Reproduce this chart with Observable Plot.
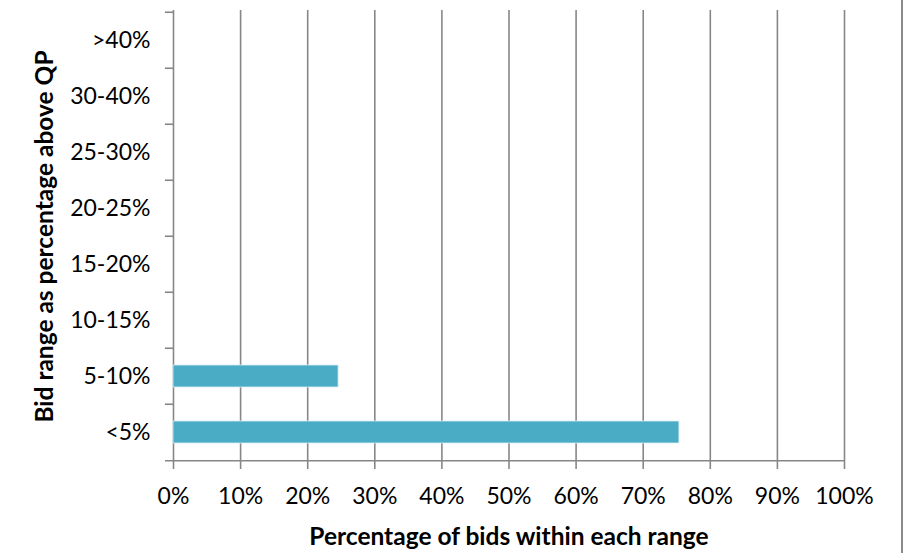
<!DOCTYPE html>
<html>
<head>
<meta charset="utf-8">
<script src="https://cdn.jsdelivr.net/npm/d3@7"></script>
<script src="https://cdn.jsdelivr.net/npm/@observablehq/plot@0.6"></script>
<style>
  html, body { margin: 0; padding: 0; background: #fff; }
  #wrap { position: relative; width: 912px; height: 553px; overflow: hidden; }
  #border { position: absolute; left: 901px; top: 0; width: 2px; height: 553px; background: #8a8a8a; }
</style>
</head>
<body>
<div id="wrap"><div id="border"></div></div>
<script>
const categories = ["<5%", "5-10%", "10-15%", "15-20%", "20-25%", "25-30%", "30-40%", ">40%"];
const values = [75.4, 24.6, 0, 0, 0, 0, 0, 0];
const xTicks = [0, 10, 20, 30, 40, 50, 60, 70, 80, 90, 100];
const xTitle = "Percentage of bids within each range";
const yTitle = "Bid range as percentage above QP";

const data = categories.map((c, i) => ({range: c, value: values[i]}));
const yOrder = categories.slice().reverse();
const W = 912, H = 553, mL = 173, mR = 68, mT = 10, mB = 91;
const band = (H - mT - mB) / categories.length;
const gray = "#878787";
const font = "Lato, 'Open Sans', sans-serif";

const chart = Plot.plot({
  width: W,
  height: H,
  marginLeft: mL,
  marginRight: mR,
  marginTop: mT,
  marginBottom: mB,
  style: {fontFamily: font, fontSize: "23px", color: "#000", background: "#fff"},
  x: {domain: [0, 100], ticks: xTicks, tickFormat: d => d + "%"},
  y: {domain: yOrder, paddingInner: 0.6, paddingOuter: 0.3},
  marks: [
    Plot.gridX(xTicks, {stroke: gray, strokeOpacity: 1, strokeWidth: 1.6}),
    Plot.axisX(xTicks, {tickSize: 7, tickPadding: 18, stroke: gray, strokeWidth: 1.6, label: null, tickFormat: d => d + "%", fontSize: 23}),
    Plot.axisY({tickSize: 0, tickPadding: 23, label: null, fontSize: 23}),
    Plot.ruleY(yOrder, {y: d => d, x1: -1.2, x2: 0, dy: -band / 2, stroke: gray, strokeWidth: 1.6}),
    Plot.ruleY(["<5%"], {y: d => d, x1: -1.2, x2: 100, dy: band / 2, stroke: gray, strokeWidth: 1.6}),
    Plot.barX(data, {y: "range", x: "value", fill: "#4BACC6", stroke: "#d6eef5", strokeWidth: 0.8}),
    Plot.text([xTitle], {text: d => d, frameAnchor: "bottom", lineAnchor: "middle", dy: 75, fontWeight: "bold", fontSize: 24.5}),
    Plot.text([yTitle], {text: d => d, x: () => -19.1, frameAnchor: "left", textAnchor: "middle", lineAnchor: "middle", rotate: -90, fontWeight: "bold", fontSize: 24.5})
  ]
});
document.getElementById("wrap").prepend(chart);
</script>
</body>
</html>
